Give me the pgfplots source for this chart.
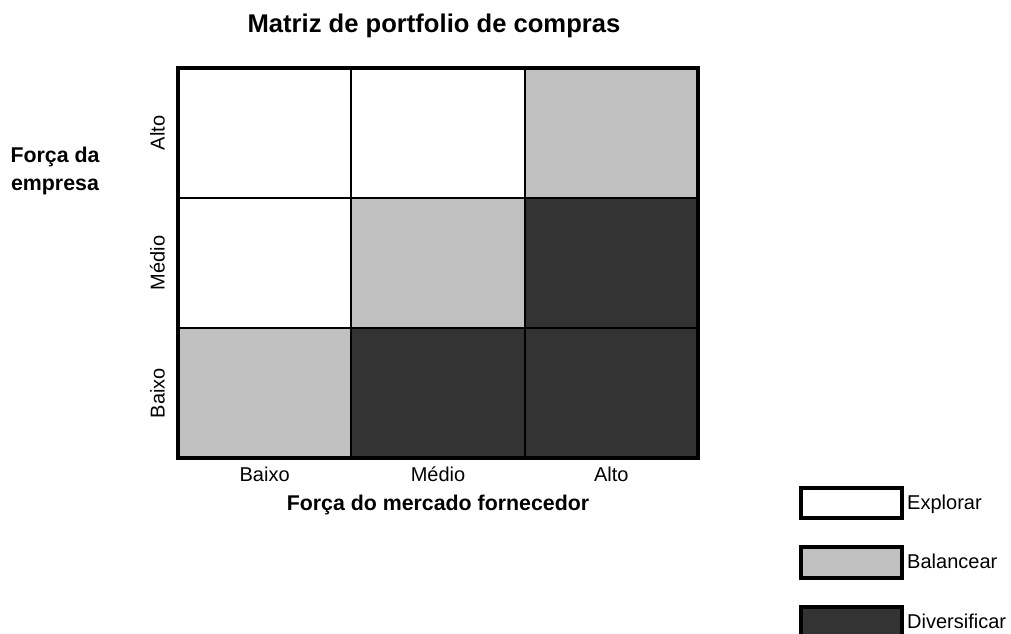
\documentclass[border=0pt]{standalone}
\usepackage{pgfplots}
\pgfplotsset{compat=1.18}
\usepackage{fontspec}
\setmainfont{Liberation Sans}
\definecolor{lgray}{HTML}{C0C0C0}
\definecolor{dgray}{HTML}{333333}
\begin{document}
\begin{tikzpicture}
\begin{axis}[name=ax, scale only axis, width=390pt, height=292.5pt,
  xmin=0, xmax=3, ymin=0, ymax=3,
  axis on top,
  axis line style={line width=3pt},
  xtick={0.5,1.5,2.5}, xticklabels={Baixo,Médio,Alto},
  ytick={0.5,1.5,2.5}, yticklabels={Baixo,Médio,Alto},
  major tick length=0pt,
  tick label style={font=\fontsize{15}{18}\selectfont},
  xticklabel style={inner sep=0pt, anchor=north, yshift=-6.5pt},
  yticklabel style={inner sep=0pt, xshift=-9.75pt, rotate=90, anchor=south},
  title={Matriz de portfolio de compras},
  title style={at={(axis description cs:0.5,1)}, anchor=base, yshift=21pt, xshift=-3pt, inner sep=0pt, font=\bfseries\fontsize{19.2}{22}\selectfont},
  xlabel={Força do mercado fornecedor},
  xlabel style={at={(axis description cs:0.5,0)}, anchor=base, yshift=-39pt, inner sep=0pt, font=\bfseries\fontsize{16}{19}\selectfont},
  ylabel={Força da\\empresa},
  ylabel style={at={(axis description cs:-0.2365,0.735)}, anchor=center, rotate=-90, align=center, inner sep=0pt, font=\bfseries\fontsize{16}{21}\selectfont},
  legend style={at={(1.1942,-0.07)}, anchor=north west, draw=none, fill=none, inner sep=0pt, row sep=18.75pt, column sep=2.25pt, nodes={inner sep=0pt, anchor=west}, font=\fontsize{15}{18}\selectfont},
  legend cell align=left,
  legend image code/.code={\draw[#1, line width=3pt] (1.5pt,-11.5pt) rectangle (77.25pt,11.5pt);},
]
% Explorar (white)
\addplot[fill=white, draw=black, line width=1.5pt] coordinates {(0,2) (1,2) (1,3) (0,3)} -- cycle;
\addlegendentry{Explorar}
\addplot[fill=white, draw=black, line width=1.5pt, forget plot] coordinates {(1,2) (2,2) (2,3) (1,3)} -- cycle;
\addplot[fill=white, draw=black, line width=1.5pt, forget plot] coordinates {(0,1) (1,1) (1,2) (0,2)} -- cycle;
% Balancear (light gray)
\addplot[fill=lgray, draw=black, line width=1.5pt] coordinates {(2,2) (3,2) (3,3) (2,3)} -- cycle;
\addlegendentry{Balancear}
\addplot[fill=lgray, draw=black, line width=1.5pt, forget plot] coordinates {(1,1) (2,1) (2,2) (1,2)} -- cycle;
\addplot[fill=lgray, draw=black, line width=1.5pt, forget plot] coordinates {(0,0) (1,0) (1,1) (0,1)} -- cycle;
% Diversificar (dark gray)
\addplot[fill=dgray, draw=black, line width=1.5pt] coordinates {(2,1) (3,1) (3,2) (2,2)} -- cycle;
\addlegendentry{Diversificar}
\addplot[fill=dgray, draw=black, line width=1.5pt, forget plot] coordinates {(1,0) (2,0) (2,1) (1,1)} -- cycle;
\addplot[fill=dgray, draw=black, line width=1.5pt, forget plot] coordinates {(2,0) (3,0) (3,1) (2,1)} -- cycle;
\end{axis}
\pgfresetboundingbox
\path[use as bounding box] (ax.south west) ++(-133.5pt,-131.25pt) rectangle ++(758.25pt,474.75pt);
\end{tikzpicture}
\end{document}
